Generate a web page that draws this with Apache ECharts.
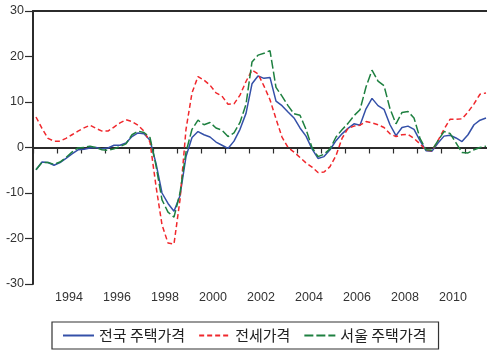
<!DOCTYPE html>
<html><head><meta charset="utf-8">
<script src="https://cdn.jsdelivr.net/npm/echarts@6/dist/echarts.min.js"></script>
<style>html,body{margin:0;padding:0;background:#fff}#c{width:487px;height:354px}</style>
</head><body><div id="c"></div>
<script>
// Categories: quarterly observations 1993Q1 .. 2011Q4
const years = [1993,1994,1995,1996,1997,1998,1999,2000,2001,2002,2003,2004,2005,2006,2007,2008,2009,2010,2011];
const quarterNames = ['Q1','Q2','Q3','Q4'];
const quarters = [];
years.forEach(y => quarterNames.forEach(q => quarters.push(y + q)));

const xTickLabels = ['1994','1996','1998','2000','2002','2004','2006','2008','2010'];
const yMin = -30, yMax = 30, yStep = 10;

const seriesNames = ['전국 주택가격', '전세가격', '서울 주택가격'];

const national = [
 -4.9,-3.2,-3.3,-3.9, -3.3,-2.4,-1.4,-0.5, -0.4,-0.1,0.0,-0.3, -0.1,0.5,0.5,1.0,
 2.4,3.2,3.0,1.6, -3.5,-10.0,-12.3,-14.0, -10.6,-2.0,2.2,3.5, 2.8,2.3,1.2,0.5,
 -0.2,1.4,4.0,7.5, 14.0,15.7,15.2,15.4, 10.2,9.2,7.8,6.5, 4.3,2.5,-0.3,-2.4,
 -2.0,-0.5,1.5,3.0, 4.2,5.2,4.9,8.5, 10.8,9.2,8.4,5.0, 2.6,4.4,4.7,4.0,
 1.5,-0.7,-0.8,1.0, 2.5,2.7,2.1,1.3, 2.8,5.0,6.0,6.5
];
const jeonse = [
 6.7,4.2,2.0,1.4, 1.4,2.0,2.8,3.6, 4.3,4.9,4.2,3.6, 3.6,4.5,5.4,6.1,
 5.7,4.9,3.6,1.2, -8.5,-17.0,-21.0,-21.2, -11.5,4.0,12.0,15.6, 14.8,13.7,12.0,11.3,
 9.5,9.6,11.5,14.5, 17.0,16.2,13.5,10.5, 6.3,2.3,0.0,-1.0, -2.2,-3.4,-4.3,-5.5,
 -5.4,-4.2,-1.8,2.0, 4.2,4.7,4.9,5.7, 5.4,5.0,4.4,3.0, 2.4,2.8,2.9,2.0,
 0.8,-0.6,-0.7,1.5, 4.0,6.2,6.2,6.3, 7.8,9.6,11.7,12.0
];
const seoul = [
 -4.9,-3.3,-3.3,-3.7, -3.2,-2.2,-1.0,-0.1, 0.0,0.3,0.0,-0.5, -0.6,-0.3,0.2,0.8,
 2.8,3.6,3.3,2.2, -4.0,-11.5,-14.2,-15.3, -10.0,-1.0,4.0,6.0, 5.0,5.5,4.3,3.8,
 2.4,3.2,5.5,9.5, 18.8,20.3,20.7,21.3, 13.2,11.3,9.2,7.4, 7.1,4.0,0.0,-2.0,
 -1.5,-0.3,2.3,3.9, 5.3,7.0,8.3,13.3, 17.0,14.6,13.6,8.5, 5.2,7.7,7.9,6.5,
 2.0,-0.5,-0.6,1.5, 3.5,3.1,1.0,-1.1, -1.2,-0.5,0.0,0.3
];

const axisColor = '#2b2b2b';
const labelFont = 'Liberation Sans, Arial, sans-serif';

const chart = echarts.init(document.getElementById('c'), null, {renderer: 'canvas'});
chart.setOption({
  animation: false,
  backgroundColor: '#ffffff',
  grid: {left: 33, top: 11, width: 456, height: 273, containLabel: false, outerBoundsMode: 'none'},
  legend: {
    left: 52, top: 322,
    padding: [6, 12, 6, 10],
    itemGap: 13,
    itemWidth: 31, itemHeight: 14,
    borderColor: '#333', borderWidth: 1.2,
    itemStyle: {opacity: 0},
    textStyle: {fontFamily: 'Noto Sans CJK KR', fontSize: 15, color: '#222'},
    data: seriesNames
  },
  xAxis: [{
    type: 'category',
    data: quarters,
    boundaryGap: true,
    position: 'bottom',
    axisLine: {show: true, lineStyle: {color: axisColor, width: 2}},
    axisTick: {show: true, length: 6, interval: (i) => i % 4 === 0, lineStyle: {color: axisColor, width: 1.2}},
    axisLabel: {
      show: true,
      interval: (i, v) => xTickLabels.indexOf(String(v).slice(0,4)) >= 0 && String(v).slice(4) === 'Q2',
      formatter: (v) => String(v).slice(0,4),
      padding: [0, 0, 0, 6],
      margin: 7,
      fontFamily: labelFont, fontSize: 12.5, color: '#333'
    },
    splitLine: {show: false}
  }, {
    type: 'category',
    data: quarters,
    boundaryGap: true,
    position: 'top',
    axisLine: {show: true, lineStyle: {color: axisColor, width: 2}},
    axisTick: {show: false},
    axisLabel: {show: false},
    splitLine: {show: false}
  }],
  yAxis: {
    type: 'value',
    min: yMin, max: yMax, interval: yStep,
    axisLine: {show: true, lineStyle: {color: axisColor, width: 2}},
    axisTick: {show: true, length: 8, lineStyle: {color: axisColor, width: 1.2}},
    axisLabel: {margin: 9, fontFamily: labelFont, fontSize: 12.5, color: '#333'},
    splitLine: {show: false}
  },
  series: [{
    name: seriesNames[0], type: 'line', data: national, symbol: 'none',
    lineStyle: {color: '#3450a8', width: 1.5, type: 'solid'}, itemStyle: {color: '#3450a8'}
  }, {
    name: seriesNames[1], type: 'line', data: jeonse, symbol: 'none',
    lineStyle: {color: '#f0282d', width: 1.5, type: [5, 3]}, itemStyle: {color: '#f0282d'}
  }, {
    name: seriesNames[2], type: 'line', data: seoul, symbol: 'none',
    lineStyle: {color: '#1e8040', width: 1.5, type: [9, 3]}, itemStyle: {color: '#1e8040'}
  }]
});
</script>
</body></html>
